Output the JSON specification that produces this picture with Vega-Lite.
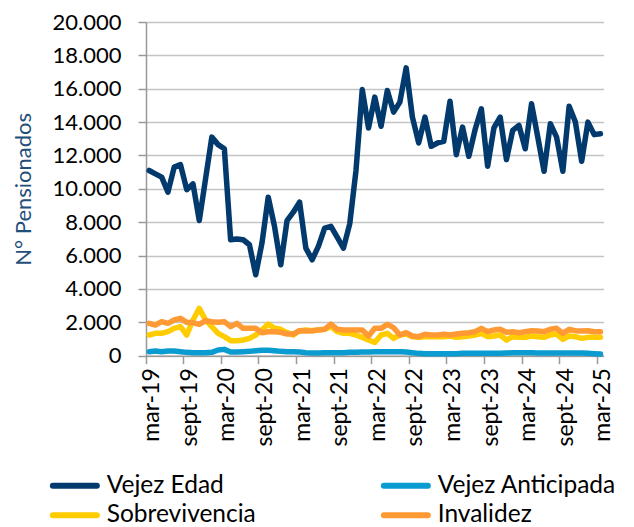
{
  "$schema": "https://vega.github.io/schema/vega-lite/v6.json",
  "width": 457.6,
  "height": 333.7,
  "autosize": {"type": "none"},
  "padding": {"left": 146, "top": 22, "right": 30.4, "bottom": 171.3},
  "background": "white",
  "config": {"view": {"stroke": null}, "font": "Lato"},
  "data": {"values": [
    {"mes": "mar-19", "Vejez Edad": 11100, "Vejez Anticipada": 240, "Sobrevivencia": 1240, "Invalidez": 1940},
    {"mes": "abr-19", "Vejez Edad": 10900, "Vejez Anticipada": 280, "Sobrevivencia": 1340, "Invalidez": 1840},
    {"mes": "may-19", "Vejez Edad": 10700, "Vejez Anticipada": 240, "Sobrevivencia": 1340, "Invalidez": 2040},
    {"mes": "jun-19", "Vejez Edad": 9800, "Vejez Anticipada": 280, "Sobrevivencia": 1440, "Invalidez": 1940},
    {"mes": "jul-19", "Vejez Edad": 11300, "Vejez Anticipada": 280, "Sobrevivencia": 1640, "Invalidez": 2140},
    {"mes": "ago-19", "Vejez Edad": 11450, "Vejez Anticipada": 240, "Sobrevivencia": 1740, "Invalidez": 2240},
    {"mes": "sept-19", "Vejez Edad": 9950, "Vejez Anticipada": 200, "Sobrevivencia": 1240, "Invalidez": 2000},
    {"mes": "oct-19", "Vejez Edad": 10300, "Vejez Anticipada": 180, "Sobrevivencia": 2140, "Invalidez": 1980},
    {"mes": "nov-19", "Vejez Edad": 8100, "Vejez Anticipada": 180, "Sobrevivencia": 2840, "Invalidez": 1880},
    {"mes": "dic-19", "Vejez Edad": 10600, "Vejez Anticipada": 180, "Sobrevivencia": 2140, "Invalidez": 2100},
    {"mes": "ene-20", "Vejez Edad": 13100, "Vejez Anticipada": 200, "Sobrevivencia": 1740, "Invalidez": 2040},
    {"mes": "feb-20", "Vejez Edad": 12650, "Vejez Anticipada": 340, "Sobrevivencia": 1340, "Invalidez": 2000},
    {"mes": "mar-20", "Vejez Edad": 12400, "Vejez Anticipada": 380, "Sobrevivencia": 1140, "Invalidez": 2040},
    {"mes": "abr-20", "Vejez Edad": 6950, "Vejez Anticipada": 220, "Sobrevivencia": 900, "Invalidez": 1740},
    {"mes": "may-20", "Vejez Edad": 7000, "Vejez Anticipada": 220, "Sobrevivencia": 900, "Invalidez": 1940},
    {"mes": "jun-20", "Vejez Edad": 6950, "Vejez Anticipada": 240, "Sobrevivencia": 940, "Invalidez": 1640},
    {"mes": "jul-20", "Vejez Edad": 6650, "Vejez Anticipada": 260, "Sobrevivencia": 1040, "Invalidez": 1640},
    {"mes": "ago-20", "Vejez Edad": 4850, "Vejez Anticipada": 300, "Sobrevivencia": 1240, "Invalidez": 1640},
    {"mes": "sept-20", "Vejez Edad": 6750, "Vejez Anticipada": 320, "Sobrevivencia": 1540, "Invalidez": 1380},
    {"mes": "oct-20", "Vejez Edad": 9500, "Vejez Anticipada": 320, "Sobrevivencia": 1900, "Invalidez": 1440},
    {"mes": "nov-20", "Vejez Edad": 7750, "Vejez Anticipada": 300, "Sobrevivencia": 1640, "Invalidez": 1440},
    {"mes": "dic-20", "Vejez Edad": 5450, "Vejez Anticipada": 260, "Sobrevivencia": 1580, "Invalidez": 1400},
    {"mes": "ene-21", "Vejez Edad": 8100, "Vejez Anticipada": 240, "Sobrevivencia": 1380, "Invalidez": 1300},
    {"mes": "feb-21", "Vejez Edad": 8600, "Vejez Anticipada": 240, "Sobrevivencia": 1240, "Invalidez": 1300},
    {"mes": "mar-21", "Vejez Edad": 9200, "Vejez Anticipada": 220, "Sobrevivencia": 1500, "Invalidez": 1500},
    {"mes": "abr-21", "Vejez Edad": 6450, "Vejez Anticipada": 180, "Sobrevivencia": 1540, "Invalidez": 1480},
    {"mes": "may-21", "Vejez Edad": 5750, "Vejez Anticipada": 160, "Sobrevivencia": 1500, "Invalidez": 1500},
    {"mes": "jun-21", "Vejez Edad": 6550, "Vejez Anticipada": 160, "Sobrevivencia": 1540, "Invalidez": 1540},
    {"mes": "jul-21", "Vejez Edad": 7650, "Vejez Anticipada": 180, "Sobrevivencia": 1580, "Invalidez": 1580},
    {"mes": "ago-21", "Vejez Edad": 7750, "Vejez Anticipada": 180, "Sobrevivencia": 1740, "Invalidez": 1900},
    {"mes": "sept-21", "Vejez Edad": 7100, "Vejez Anticipada": 180, "Sobrevivencia": 1440, "Invalidez": 1580},
    {"mes": "oct-21", "Vejez Edad": 6450, "Vejez Anticipada": 180, "Sobrevivencia": 1340, "Invalidez": 1540},
    {"mes": "nov-21", "Vejez Edad": 7900, "Vejez Anticipada": 200, "Sobrevivencia": 1340, "Invalidez": 1540},
    {"mes": "dic-21", "Vejez Edad": 11100, "Vejez Anticipada": 200, "Sobrevivencia": 1240, "Invalidez": 1540},
    {"mes": "ene-22", "Vejez Edad": 15950, "Vejez Anticipada": 220, "Sobrevivencia": 1100, "Invalidez": 1540},
    {"mes": "feb-22", "Vejez Edad": 13650, "Vejez Anticipada": 220, "Sobrevivencia": 940, "Invalidez": 1180},
    {"mes": "mar-22", "Vejez Edad": 15500, "Vejez Anticipada": 240, "Sobrevivencia": 800, "Invalidez": 1640},
    {"mes": "abr-22", "Vejez Edad": 13750, "Vejez Anticipada": 240, "Sobrevivencia": 1240, "Invalidez": 1640},
    {"mes": "may-22", "Vejez Edad": 15900, "Vejez Anticipada": 240, "Sobrevivencia": 1340, "Invalidez": 1880},
    {"mes": "jun-22", "Vejez Edad": 14600, "Vejez Anticipada": 240, "Sobrevivencia": 1040, "Invalidez": 1680},
    {"mes": "jul-22", "Vejez Edad": 15200, "Vejez Anticipada": 240, "Sobrevivencia": 1240, "Invalidez": 1240},
    {"mes": "ago-22", "Vejez Edad": 17250, "Vejez Anticipada": 220, "Sobrevivencia": 1300, "Invalidez": 1380},
    {"mes": "sept-22", "Vejez Edad": 14300, "Vejez Anticipada": 180, "Sobrevivencia": 1140, "Invalidez": 1180},
    {"mes": "oct-22", "Vejez Edad": 12750, "Vejez Anticipada": 140, "Sobrevivencia": 1100, "Invalidez": 1140},
    {"mes": "nov-22", "Vejez Edad": 14300, "Vejez Anticipada": 120, "Sobrevivencia": 1140, "Invalidez": 1280},
    {"mes": "dic-22", "Vejez Edad": 12550, "Vejez Anticipada": 120, "Sobrevivencia": 1140, "Invalidez": 1240},
    {"mes": "ene-23", "Vejez Edad": 12750, "Vejez Anticipada": 120, "Sobrevivencia": 1140, "Invalidez": 1240},
    {"mes": "feb-23", "Vejez Edad": 12850, "Vejez Anticipada": 120, "Sobrevivencia": 1140, "Invalidez": 1280},
    {"mes": "mar-23", "Vejez Edad": 15250, "Vejez Anticipada": 120, "Sobrevivencia": 1180, "Invalidez": 1240},
    {"mes": "abr-23", "Vejez Edad": 12050, "Vejez Anticipada": 120, "Sobrevivencia": 1100, "Invalidez": 1300},
    {"mes": "may-23", "Vejez Edad": 13700, "Vejez Anticipada": 140, "Sobrevivencia": 1140, "Invalidez": 1340},
    {"mes": "jun-23", "Vejez Edad": 11950, "Vejez Anticipada": 140, "Sobrevivencia": 1180, "Invalidez": 1380},
    {"mes": "jul-23", "Vejez Edad": 13550, "Vejez Anticipada": 140, "Sobrevivencia": 1240, "Invalidez": 1440},
    {"mes": "ago-23", "Vejez Edad": 14800, "Vejez Anticipada": 140, "Sobrevivencia": 1340, "Invalidez": 1640},
    {"mes": "sept-23", "Vejez Edad": 11350, "Vejez Anticipada": 140, "Sobrevivencia": 1140, "Invalidez": 1440},
    {"mes": "oct-23", "Vejez Edad": 13650, "Vejez Anticipada": 140, "Sobrevivencia": 1180, "Invalidez": 1540},
    {"mes": "nov-23", "Vejez Edad": 14300, "Vejez Anticipada": 140, "Sobrevivencia": 1240, "Invalidez": 1580},
    {"mes": "dic-23", "Vejez Edad": 11750, "Vejez Anticipada": 160, "Sobrevivencia": 940, "Invalidez": 1400},
    {"mes": "ene-24", "Vejez Edad": 13500, "Vejez Anticipada": 180, "Sobrevivencia": 1140, "Invalidez": 1440},
    {"mes": "feb-24", "Vejez Edad": 13800, "Vejez Anticipada": 180, "Sobrevivencia": 1100, "Invalidez": 1380},
    {"mes": "mar-24", "Vejez Edad": 12400, "Vejez Anticipada": 180, "Sobrevivencia": 1100, "Invalidez": 1440},
    {"mes": "abr-24", "Vejez Edad": 15100, "Vejez Anticipada": 180, "Sobrevivencia": 1180, "Invalidez": 1500},
    {"mes": "may-24", "Vejez Edad": 13100, "Vejez Anticipada": 160, "Sobrevivencia": 1140, "Invalidez": 1480},
    {"mes": "jun-24", "Vejez Edad": 11050, "Vejez Anticipada": 160, "Sobrevivencia": 1100, "Invalidez": 1440},
    {"mes": "jul-24", "Vejez Edad": 13900, "Vejez Anticipada": 160, "Sobrevivencia": 1240, "Invalidez": 1580},
    {"mes": "ago-24", "Vejez Edad": 13100, "Vejez Anticipada": 160, "Sobrevivencia": 1300, "Invalidez": 1640},
    {"mes": "sept-24", "Vejez Edad": 11050, "Vejez Anticipada": 160, "Sobrevivencia": 980, "Invalidez": 1340},
    {"mes": "oct-24", "Vejez Edad": 14950, "Vejez Anticipada": 160, "Sobrevivencia": 1180, "Invalidez": 1580},
    {"mes": "nov-24", "Vejez Edad": 14000, "Vejez Anticipada": 160, "Sobrevivencia": 1140, "Invalidez": 1500},
    {"mes": "dic-24", "Vejez Edad": 11650, "Vejez Anticipada": 160, "Sobrevivencia": 1040, "Invalidez": 1480},
    {"mes": "ene-25", "Vejez Edad": 14000, "Vejez Anticipada": 140, "Sobrevivencia": 1100, "Invalidez": 1500},
    {"mes": "feb-25", "Vejez Edad": 13250, "Vejez Anticipada": 120, "Sobrevivencia": 1100, "Invalidez": 1440},
    {"mes": "mar-25", "Vejez Edad": 13300, "Vejez Anticipada": 100, "Sobrevivencia": 1100, "Invalidez": 1440}
  ]},
  "transform": [
    {"fold": ["Vejez Edad", "Vejez Anticipada", "Sobrevivencia", "Invalidez"], "as": ["serie", "valor"]}
  ],
  "mark": {"type": "line", "strokeWidth": 5.5, "strokeJoin": "round", "strokeCap": "round"},
  "encoding": {
    "x": {
      "field": "mes", "type": "ordinal", "sort": null, "bandPosition": 0.5,
      "scale": {"type": "band", "paddingInner": 0, "paddingOuter": 0},
      "axis": {
        "title": null,
        "values": ["mar-19", "sept-19", "mar-20", "sept-20", "mar-21", "sept-21", "mar-22", "sept-22", "mar-23", "sept-23", "mar-24", "sept-24", "mar-25"],
        "labelAngle": -90, "bandPosition": 0, "grid": false,
        "domainColor": "#999999", "domainWidth": 1.5,
        "tickColor": "#999999", "tickWidth": 1.5, "tickSize": 8,
        "labelFontSize": 23, "labelColor": "#000000", "labelPadding": 4, "labelOffset": 3
      }
    },
    "y": {
      "field": "valor", "type": "quantitative",
      "scale": {"domain": [0, 20000], "nice": false},
      "axis": {
        "title": "N° Pensionados",
        "values": [0, 2000, 4000, 6000, 8000, 10000, 12000, 14000, 16000, 18000, 20000],
        "labelExpr": "replace(format(datum.value, ','), ',', '.')",
        "titleFontSize": 22, "titleFontWeight": "normal", "titleColor": "#1F4E79", "titlePadding": 17,
        "labelFontSize": 22, "labelColor": "#000000", "labelPadding": 17,
        "gridColor": "#C4C4C4", "gridWidth": 1.5,
        "domainColor": "#999999", "domainWidth": 1.5,
        "tickColor": "#999999", "tickWidth": 1.5, "tickSize": 8
      }
    },
    "color": {
      "field": "serie", "type": "nominal",
      "scale": {
        "domain": ["Vejez Edad", "Vejez Anticipada", "Sobrevivencia", "Invalidez"],
        "range": ["#023A6D", "#0A9BD0", "#FFCC00", "#FF9933"]
      },
      "legend": {
        "title": null, "orient": "none", "legendX": -83.4, "legendY": 451,
        "direction": "horizontal", "columns": 2,
        "symbolType": "M-5,0H5", "symbolSize": 77.4, "symbolStrokeWidth": 6,
        "labelFontSize": 24.5, "labelColor": "#000000", "labelOffset": 19.6, "labelLimit": 400,
        "columnPadding": 115, "rowPadding": 4,
        "encode": {"symbols": {"update": {"strokeCap": {"value": "round"}}}}
      }
    }
  }
}
